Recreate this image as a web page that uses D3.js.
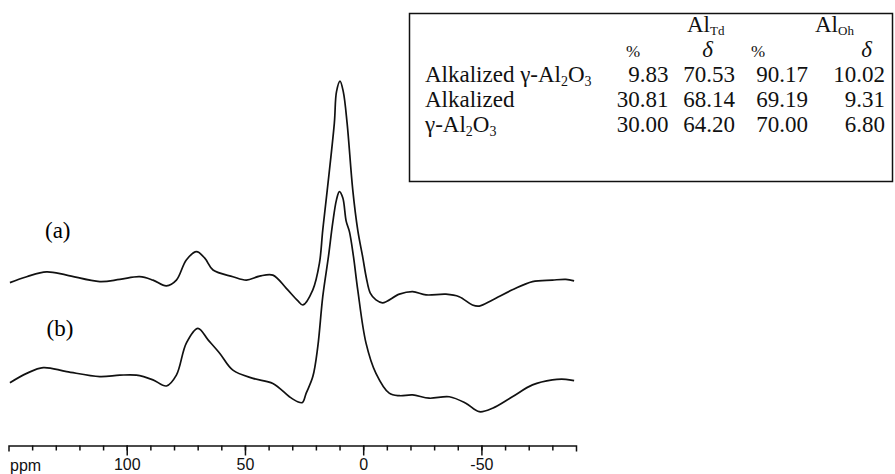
<!DOCTYPE html>
<html>
<head>
<meta charset="utf-8">
<script src="https://cdn.jsdelivr.net/npm/d3@7"></script>
<style>
body { margin: 0; background: #fff; }
svg { display: block; }
</style>
</head>
<body>
<div id="chart"></div>
<script>
// spectrum (a): chemical shift (ppm) and intensity (arbitrary units, offset included)
var ppmA = [149.4, 142.3, 133.9, 125.4, 111.4, 102.9, 94.5, 88.9, 83.2, 79.0,
    74.8, 70.5, 67.0, 63.5, 55.1, 49.4, 43.8, 38.2, 32.5, 27.7,
    25.5, 21.3, 18.5, 17.1, 15.2, 12.2, 11.3, 9.8, 8.4, 6.8,
    4.4, 2.3, 0.2, -1.35, -3.0, -5.4, -8.2, -15.3, -20.9, -26.6,
    -35.0, -40.6, -46.2, -49.1, -54.7, -63.1, -71.6, -80.0, -85.7, -89.2];
var intA = [45.1, 46.75, 48.1, 47.2, 45.4, 46.0, 46.75, 45.8, 44.2, 45.8,
    51.4, 53.7, 51.9, 48.6, 46.75, 45.8, 46.9, 47.2, 43.5, 40.1,
    38.9, 43.1, 50.5, 59.7, 70.8, 89.4, 98.1, 101.1, 98.1, 89.4,
    70.8, 59.7, 52.2, 46.4, 42.2, 40.3, 39.5, 41.9, 42.6, 41.7,
    41.9, 41.2, 38.9, 38.6, 40.3, 43.1, 45.4, 45.8, 46.0, 45.6];

// spectrum (b)
var ppmB = [149.4, 142.3, 135.3, 125.4, 111.4, 102.9, 95.9, 88.9, 83.2, 79.0,
    74.8, 69.9, 65.6, 60.7, 55.1, 46.6, 38.2, 31.2, 27.7, 25.7,
    24.1, 21.3, 19.2, 17.1, 14.7, 12.9, 11.3, 10.05, 8.6, 7.2,
    5.8, 4.1, 2.3, -1.2, -5.4, -11.0, -15.3, -20.9, -27.9, -36.4,
    -43.4, -49.1, -54.7, -63.1, -71.6, -80.0, -85.7, -89.2];
var intB = [17.3, 19.9, 21.5, 20.4, 19.0, 19.4, 19.4, 18.1, 16.4, 19.4,
    28.3, 32.4, 29.2, 25.5, 20.8, 18.5, 17.1, 13.4, 12.0, 11.8,
    14.4, 19.0, 27.3, 41.2, 52.3, 61.6, 68.1, 70.4, 68.6, 62.2,
    59.2, 52.3, 43.1, 28.3, 19.9, 14.4, 13.7, 13.9, 13.0, 13.4,
    11.6, 9.25, 10.2, 13.4, 16.7, 18.1, 18.25, 17.9];

var majorTicks = [100, 50, 0, -50];
var minorTicks = d3.range(-80, 150, 10);

// inset table
var rowLabels = ["Alkalized γ-Al_2O_3", "Alkalized", "γ-Al_2O_3"];
var tdPct = [9.83, 30.81, 30.00];
var tdDelta = [70.53, 68.14, 64.20];
var ohPct = [90.17, 69.19, 70.00];
var ohDelta = [10.02, 9.31, 6.80];

var width = 895, height = 474;

var svg = d3.select("#chart")
    .append("svg")
    .attr("width", width)
    .attr("height", height);

var x = d3.scaleLinear()
    .domain([150, -90])
    .range([8.5, 576]);

var y = d3.scaleLinear()
    .domain([0, 100])
    .range([445, 85]);

var line = d3.line()
    .x(function(d) { return x(d[0]); })
    .y(function(d) { return y(d[1]); })
    .curve(d3.curveCatmullRom.alpha(0.5));

var specA = ppmA.map(function(p, i) { return [p, intA[i]]; });
var specB = ppmB.map(function(p, i) { return [p, intB[i]]; });

svg.selectAll("path.spec")
    .data([specA, specB])
    .enter()
    .append("path")
    .attr("class", "spec")
    .attr("d", line)
    .attr("fill", "none")
    .attr("stroke", "#111")
    .attr("stroke-width", 1.7)
    .attr("stroke-linejoin", "round");

svg.append("text")
    .attr("x", 45)
    .attr("y", 237.5)
    .attr("font-family", "Liberation Serif, Times New Roman, serif")
    .attr("font-size", 23)
    .text("(a)");
svg.append("text")
    .attr("x", 46.5)
    .attr("y", 336)
    .attr("font-family", "Liberation Serif, Times New Roman, serif")
    .attr("font-size", 23)
    .text("(b)");

// axis: minor ticks every 10 ppm, major every 50
var axisY = 445.5;
var gMinor = svg.append("g")
    .attr("transform", "translate(0," + axisY + ")")
    .call(d3.axisBottom(x).tickValues(minorTicks).tickSize(5).tickSizeOuter(6).tickFormat(""));
var gMajor = svg.append("g")
    .attr("transform", "translate(0," + axisY + ")")
    .call(d3.axisBottom(x).tickValues(majorTicks).tickSize(10).tickPadding(3)
        .tickFormat(function(d) { return d < 0 ? "-" + Math.abs(d) : d; }));
gMajor.select(".domain").remove();
svg.selectAll(".tick line, .domain")
    .attr("stroke", "#111")
    .attr("stroke-width", 1.5);
gMajor.selectAll("text")
    .attr("fill", "#111")
    .attr("font-family", "Liberation Sans, Arial, sans-serif")
    .attr("font-size", 16);

svg.append("text")
    .attr("x", 10)
    .attr("y", 471)
    .attr("font-family", "Liberation Sans, Arial, sans-serif")
    .attr("font-size", 16)
    .attr("fill", "#111")
    .text("ppm");

// table box
var serif = "Liberation Serif, Times New Roman, serif";
var tbl = svg.append("g");
tbl.append("rect")
    .attr("x", 409.5)
    .attr("y", 13.5)
    .attr("width", 483)
    .attr("height", 168)
    .attr("fill", "white")
    .attr("stroke", "#111")
    .attr("stroke-width", 1.5);

function subText(sel, str, size, subSize) {
    var parts = str.split("_");
    sel.append("tspan").text(parts[0]);
    for (var i = 1; i < parts.length; i++) {
        sel.append("tspan")
            .attr("font-size", subSize)
            .attr("dy", 4)
            .text(parts[i].charAt(0));
        if (parts[i].length > 1) {
            sel.append("tspan")
                .attr("dy", -4)
                .text(parts[i].slice(1));
        } else {
            sel.append("tspan").attr("dy", -4).text("");
        }
    }
}

var hdrAl = [["Al_Td", 687], ["Al_Oh", 815]];
hdrAl.forEach(function(h) {
    var t = tbl.append("text")
        .attr("x", h[1])
        .attr("y", 32)
        .attr("font-family", serif)
        .attr("font-size", 23)
        .attr("fill", "#111");
    var p = h[0].split("_");
    t.append("tspan").text(p[0]);
    t.append("tspan").attr("font-size", 13).attr("dy", 3).text(p[1]);
});

var hdrSub = [["%", 633, "normal", 17], ["δ", 707.5, "italic", 23], ["%", 758, "normal", 17], ["δ", 866.5, "italic", 23]];
hdrSub.forEach(function(h) {
    tbl.append("text")
        .attr("x", h[1])
        .attr("y", 56.5)
        .attr("text-anchor", "middle")
        .attr("font-family", serif)
        .attr("font-style", h[2])
        .attr("font-size", h[3])
        .attr("fill", "#111")
        .text(h[0]);
});

var rowY = [81.5, 106.5, 131.5];
var colRight = [668.5, 735, 808, 885];
var cols = [tdPct, tdDelta, ohPct, ohDelta];

rowLabels.forEach(function(lbl, i) {
    var t = tbl.append("text")
        .attr("x", 425)
        .attr("y", rowY[i])
        .attr("font-family", serif)
        .attr("font-size", 23)
        .attr("fill", "#111");
    subText(t, lbl, 23, 14);
    cols.forEach(function(c, j) {
        tbl.append("text")
            .attr("x", colRight[j])
            .attr("y", rowY[i])
            .attr("text-anchor", "end")
            .attr("font-family", serif)
            .attr("font-size", 23)
            .attr("fill", "#111")
            .text(c[i].toFixed(2));
    });
});
</script>
</body>
</html>
